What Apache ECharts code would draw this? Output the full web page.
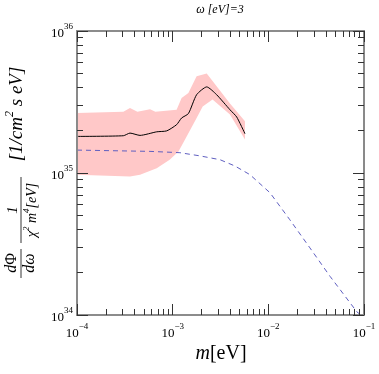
<!DOCTYPE html>
<html>
<head>
<meta charset="utf-8">
<script src="https://cdn.jsdelivr.net/npm/echarts@6/dist/echarts.min.js"></script>
<style>
html, body { margin: 0; padding: 0; background: #fff; }
#wrap { position: relative; width: 379px; height: 374px; }
#chart, #frame { position: absolute; left: 0; top: 0; width: 379px; height: 374px; }
#frame { pointer-events: none; }
</style>
</head>
<body>
<div id="wrap"><div id="chart"></div><div id="frame"></div></div>
<script>
// decades shown on the axes (log10 of the value)
const xDecades = [-4, -3, -2, -1];
const yDecades = [34, 35, 36];

// mean flux (black line)
const meanMass = [1.0e-4, 3.05e-4, 3.58e-4, 4.56e-4, 6.81e-4, 8.67e-4, 1.10e-3, 1.24e-3, 1.46e-3, 1.78e-3, 2.27e-3, 2.88e-3, 3.97e-3, 4.67e-3, 5.70e-3];
const meanFlux = [1.81e35, 1.83e35, 1.91e35, 1.84e35, 1.95e35, 1.98e35, 2.19e35, 2.44e35, 2.62e35, 3.56e35, 4.04e35, 3.56e35, 2.79e35, 2.48e35, 1.89e35];

// uncertainty band (pink)
const upperMass = [1.0e-4, 3.05e-4, 3.58e-4, 4.28e-4, 5.80e-4, 6.60e-4, 1.10e-3, 1.24e-3, 1.46e-3, 1.78e-3, 2.27e-3, 2.88e-3, 3.97e-3, 5.70e-3];
const upperFlux = [2.65e35, 2.70e35, 2.87e35, 2.70e35, 2.81e35, 2.70e35, 2.79e35, 3.38e35, 3.66e35, 4.80e35, 5.01e35, 4.08e35, 3.09e35, 2.31e35];
const lowerMass = [1.0e-4, 3.58e-4, 4.56e-4, 6.81e-4, 9.30e-4, 1.15e-3, 1.40e-3, 1.78e-3, 2.06e-3, 2.61e-3, 3.97e-3, 5.70e-3];
const lowerFlux = [9.73e34, 9.46e34, 9.73e34, 1.08e35, 1.24e35, 1.42e35, 1.81e35, 2.44e35, 2.94e35, 3.29e35, 2.58e35, 1.72e35];

// dashed prediction
const dashMass = [1.0e-4, 5.79e-4, 1.19e-3, 1.93e-3, 3.13e-3, 4.48e-3, 6.43e-3, 1.04e-2, 1.68e-2, 2.72e-2, 4.42e-2, 8.45e-2, 9.29e-2];
const dashFlux = [1.45e35, 1.42e35, 1.39e35, 1.32e35, 1.24e35, 1.12e35, 9.73e34, 7.26e34, 4.68e34, 2.97e34, 1.87e34, 1.05e34, 1.0e34];

const serif = '"Liberation Serif", "DejaVu Serif", serif';
const lg = v => Math.log10(v);
const pairs = (xs, ys) => xs.map((x, i) => [lg(x), lg(ys[i])]);
const gridBox = { left: 77, right: 15, top: 31, bottom: 59, outerBoundsMode: 'none' };

const minorOf = decs => {
    const out = [];
    decs.slice(0, -1).forEach(d => {
        for (let k = 2; k <= 9; k++) out.push(d + Math.log10(k));
    });
    return out;
};

const bandRing = pairs(upperMass, upperFlux).concat(pairs(lowerMass, lowerFlux).reverse());

const tickRich = {
    b: { fontFamily: serif, fontSize: 13, lineHeight: 18, verticalAlign: 'bottom', color: '#000' },
    s: { fontFamily: serif, fontSize: 9, lineHeight: 11, verticalAlign: 'top', color: '#000' }
};
const powLabel = v => '{b|10}{s|' + (v < 0 ? '\u2212' + (-v) : v) + '}';

function baseAxis(decs, position) {
    return {
        type: 'value',
        position: position,
        min: decs[0],
        max: decs[decs.length - 1],
        interval: 1,
        splitLine: { show: false },
        axisLine: { show: true, lineStyle: { color: '#8a8a8a', width: 1.6 } },
        axisTick: { show: false },
        axisLabel: { show: false }
    };
}

// frame overlay axes: ticks on every side
function tickAxis(decs, position, major) {
    const axis = baseAxis(decs, position);
    axis.axisTick = { show: true, inside: true, length: major ? 11 : 6, lineStyle: { color: '#333', width: 1 } };
    if (!major) axis.axisTick.customValues = minorOf(decs);
    return axis;
}

// data chart axes: labels only
function labelAxis(decs, position) {
    const axis = baseAxis(decs, position);
    axis.axisLabel = { show: true, formatter: powLabel, rich: tickRich, margin: position === 'bottom' ? 7 : 4 };
    return axis;
}

// draw the tick frame first so nothing later can stop it
const frame = echarts.init(document.getElementById('frame'));
frame.setOption({
    animation: false,
    grid: gridBox,
    xAxis: [tickAxis(xDecades, 'bottom', true), tickAxis(xDecades, 'bottom', false), tickAxis(xDecades, 'top', true), tickAxis(xDecades, 'top', false)],
    yAxis: [tickAxis(yDecades, 'left', true), tickAxis(yDecades, 'left', false), tickAxis(yDecades, 'right', true), tickAxis(yDecades, 'right', false)],
    series: []
});

const chart = echarts.init(document.getElementById('chart'));
chart.setOption({
    animation: false,
    backgroundColor: '#fff',
    grid: gridBox,
    xAxis: [labelAxis(xDecades, 'bottom'), baseAxis(xDecades, 'top')],
    yAxis: [labelAxis(yDecades, 'left'), baseAxis(yDecades, 'right')],
    series: [
        {
            type: 'custom',
            clip: true,
            silent: true,
            data: [0],
            z: 1,
            renderItem: (params, api) => ({
                type: 'polygon',
                shape: { points: bandRing.map(p => api.coord(p)) },
                style: { fill: '#ffc8c8' }
            })
        },
        {
            type: 'line',
            data: pairs(dashMass, dashFlux),
            showSymbol: false,
            z: 3,
            lineStyle: { color: '#5f5fc0', width: 1, type: [5, 4] }
        },
        {
            type: 'line',
            data: pairs(meanMass, meanFlux),
            showSymbol: false,
            smooth: 0.2,
            z: 4,
            lineStyle: { color: '#000', width: 1 }
        }
    ],
    graphic: [
        {
            type: 'text', x: 220, y: 10,
            style: { text: '\u03c9 [eV]=3', fontFamily: serif, fontStyle: 'italic', fontSize: 12, fill: '#000', align: 'center', verticalAlign: 'middle' }
        },
        // x axis name
        {
            type: 'text', x: 221, y: 354,
            style: {
                text: '{i|m}{u|[eV]}',
                align: 'center', verticalAlign: 'middle',
                rich: {
                    i: { fontFamily: serif, fontStyle: 'italic', fontSize: 20, color: '#000' },
                    u: { fontFamily: serif, fontSize: 20, color: '#000' }
                }
            }
        },
        // y axis label, rotated
        {
            type: 'text', x: 15, y: 114, rotation: Math.PI / 2,
            style: {
                text: '{a|[1/cm}{s|2}{a| s eV]}',
                align: 'center', verticalAlign: 'middle',
                rich: {
                    a: { fontFamily: serif, fontStyle: 'italic', fontSize: 19, lineHeight: 22, verticalAlign: 'bottom', color: '#000' },
                    s: { fontFamily: serif, fontStyle: 'italic', fontSize: 12, lineHeight: 12, verticalAlign: 'top', color: '#000' }
                }
            }
        },
        {
            type: 'text', x: 12, y: 263, rotation: Math.PI / 2,
            style: { text: '{i|d}{u|\u03a6}', align: 'center', verticalAlign: 'middle',
                rich: { i: { fontFamily: serif, fontStyle: 'italic', fontSize: 16, color: '#000' }, u: { fontFamily: serif, fontSize: 16, color: '#000' } } }
        },
        {
            type: 'text', x: 30, y: 263, rotation: Math.PI / 2,
            style: { text: 'd\u03c9', fontFamily: serif, fontStyle: 'italic', fontSize: 16, fill: '#000', align: 'center', verticalAlign: 'middle' }
        },
        { type: 'line', shape: { x1: 21, y1: 249, x2: 21, y2: 278 }, style: { stroke: '#000', lineWidth: 0.8 } },
        {
            type: 'text', x: 13, y: 210, rotation: Math.PI / 2,
            style: { text: '1', fontFamily: serif, fontStyle: 'italic', fontSize: 15, fill: '#000', align: 'center', verticalAlign: 'middle' }
        },
        { type: 'line', shape: { x1: 21, y1: 177, x2: 21, y2: 243 }, style: { stroke: '#000', lineWidth: 0.8 } },
        {
            type: 'text', x: 31, y: 210, rotation: Math.PI / 2,
            style: {
                text: '{a|\u03c7}{s|2}{a| m}{s|4}{a|[eV]}',
                align: 'center', verticalAlign: 'middle',
                rich: {
                    a: { fontFamily: serif, fontStyle: 'italic', fontSize: 14, lineHeight: 17, verticalAlign: 'bottom', color: '#000' },
                    s: { fontFamily: serif, fontStyle: 'italic', fontSize: 9, lineHeight: 9, verticalAlign: 'top', color: '#000' }
                }
            }
        }
    ]
});
</script>
</body>
</html>
